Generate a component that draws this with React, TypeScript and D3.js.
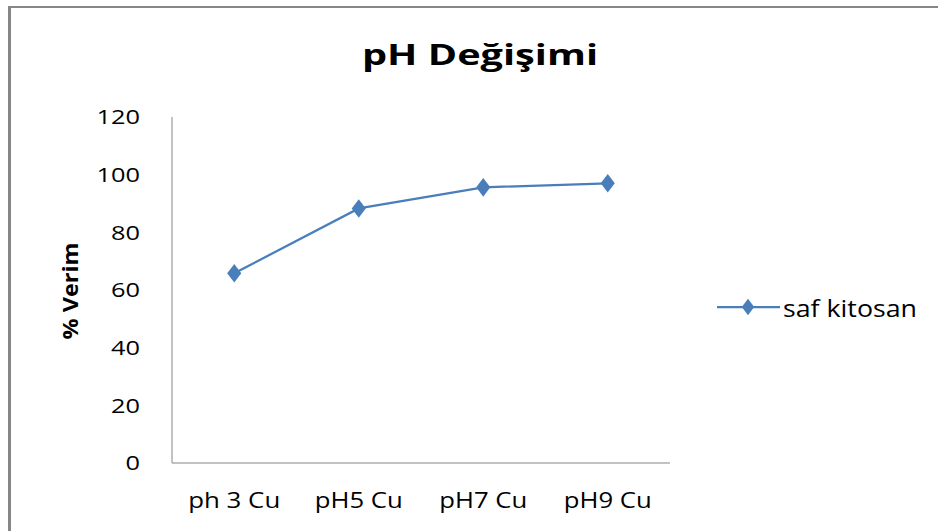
import React from "react";
import * as d3 from "d3";

const categories = ["ph 3 Cu", "pH5 Cu", "pH7 Cu", "pH9 Cu"];
const values = [65.8, 88.3, 95.6, 97.0];
const yTicks = [0, 20, 40, 60, 80, 100, 120];
const seriesName = "saf kitosan";
const title = "pH Değişimi";
const yLabel = "% Verim";

const W = 938, H = 531;
const plot = { left: 172, right: 670, top: 117, bottom: 463 };
const color = "#4a7ebb";
const font = "'Open Sans', 'Noto Sans', sans-serif";

export default function App() {
  const x = d3.scaleBand<string>().domain(categories).range([plot.left, plot.right]);
  const y = d3.scaleLinear().domain([0, 120]).range([plot.bottom, plot.top]);
  const cx = (i: number) => (x(categories[i]) as number) + x.bandwidth() / 2;
  const line = d3
    .line<number>()
    .x((_, i) => cx(i))
    .y((d) => y(d));
  const diamond = d3.symbol().type(d3.symbolDiamond).size(110)() as string;
  const diamondWide = (s: string) => s;
  return (
    <svg width={W} height={H} style={{ position: "absolute", left: 0, top: 0 }}>
      <rect x={0} y={0} width={W} height={H} fill="#fff" />
      <line x1={8} x2={W} y1={7} y2={7} stroke="#868686" strokeWidth={2} />
      <line x1={9.5} x2={9.5} y1={6} y2={H} stroke="#868686" strokeWidth={3} />
      <text
        x={480}
        y={65}
        textAnchor="middle"
        fontFamily={font}
        fontWeight="bold"
        fontSize={28}
        textLength={236}
        lengthAdjust="spacingAndGlyphs"
        fill="#000"
      >
        {title}
      </text>
      <line x1={plot.left} x2={plot.left} y1={plot.top} y2={plot.bottom} stroke="#868686" />
      <line x1={plot.left} x2={plot.right} y1={plot.bottom} y2={plot.bottom} stroke="#868686" />
      {yTicks.map((t) => (
        <text
          key={t}
          x={140}
          y={y(t)}
          dy="0.36em"
          textAnchor="end"
          fontFamily={font}
          fontSize={20}
          textLength={String(t).length * 14.5}
          lengthAdjust="spacingAndGlyphs"
          fill="#000"
        >
          {t}
        </text>
      ))}
      {categories.map((c, i) => (
        <text
          key={c}
          x={cx(i)}
          y={508}
          textAnchor="middle"
          fontFamily={font}
          fontSize={21}
          textLength={i === 0 ? 92 : 88}
          lengthAdjust="spacingAndGlyphs"
          fill="#000"
        >
          {c}
        </text>
      ))}
      <text
        transform={`translate(78,${(plot.top + plot.bottom) / 2 + 1}) rotate(-90)`}
        textAnchor="middle"
        fontFamily={font}
        fontWeight="bold"
        fontSize={22}
        textLength={97}
        lengthAdjust="spacingAndGlyphs"
        fill="#000"
      >
        {yLabel}
      </text>
      <path d={line(values) as string} fill="none" stroke={color} strokeWidth={2.25} />
      {values.map((v, i) => (
        <path
          key={i}
          d={diamondWide(diamond)}
          transform={`translate(${cx(i)},${y(v)}) scale(1.25,0.95)`}
          fill={color}
        />
      ))}
      <line x1={717} x2={780} y1={307} y2={307} stroke={color} strokeWidth={2.25} />
      <path d={diamond} transform="translate(748,307) scale(1.1,0.85)" fill={color} />
      <text
        x={783}
        y={317}
        fontFamily={font}
        fontSize={23}
        textLength={134}
        lengthAdjust="spacingAndGlyphs"
        fill="#000"
      >
        {seriesName}
      </text>
    </svg>
  );
}
